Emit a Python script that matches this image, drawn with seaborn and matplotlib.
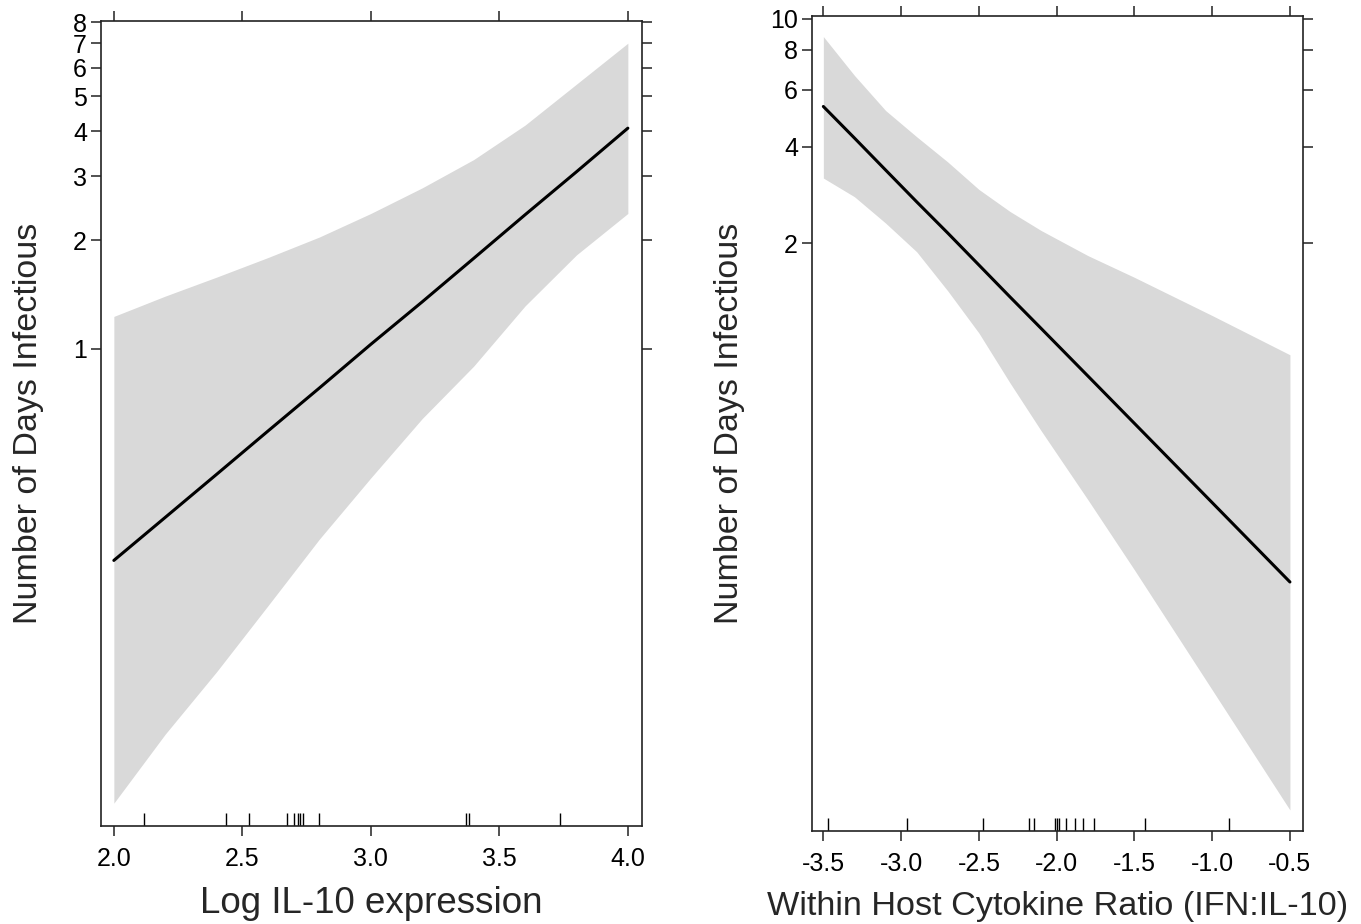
import numpy as np
import pandas as pd
import matplotlib
matplotlib.use('Agg')
import matplotlib.pyplot as plt
from matplotlib.ticker import FixedLocator, FixedFormatter, NullLocator
import seaborn as sns

# --- datos (escala log en y) ---
# Panel izquierdo: Log IL-10 expression
il10_x = [2.0, 2.2, 2.4, 2.6, 2.8, 3.0, 3.2, 3.4, 3.6, 3.8, 4.0]
il10_fit = [0.26, 0.342, 0.45, 0.593, 0.78, 1.03, 1.35, 1.78, 2.35, 3.09, 4.08]
il10_upper = [1.23, 1.40, 1.58, 1.79, 2.04, 2.37, 2.79, 3.34, 4.16, 5.40, 7.01]
il10_lower = [0.0554, 0.086, 0.128, 0.195, 0.298, 0.44, 0.642, 0.896, 1.315, 1.82, 2.37]
il10_rug = [2.117, 2.437, 2.524, 2.675, 2.70, 2.715, 2.725, 2.735, 2.80,
            3.371, 3.382, 3.736]

# Panel derecho: Within Host Cytokine Ratio (IFN:IL-10)
ratio_x = [-3.5, -3.3, -3.1, -2.9, -2.7, -2.5, -2.3, -2.1, -1.8, -1.5, -1.0, -0.5]
ratio_fit = [5.33, 4.25, 3.38, 2.69, 2.15, 1.71, 1.36, 1.085, 0.772, 0.549, 0.311, 0.176]
ratio_upper = [8.80, 6.66, 5.18, 4.29, 3.58, 2.94, 2.51, 2.19, 1.83, 1.565, 1.19, 0.898]
ratio_lower = [3.19, 2.79, 2.31, 1.88, 1.42, 1.05, 0.734, 0.521, 0.318, 0.192, 0.0812, 0.0343]
ratio_rug = [-3.471, -2.960, -2.474, -2.180, -2.148, -2.008, -1.996, -1.983,
             -1.942, -1.885, -1.831, -1.758, -1.434, -0.891]

# Ticks
il10_xticks = [2.0, 2.5, 3.0, 3.5, 4.0]
il10_yticks = [1, 2, 3, 4, 5, 6, 7, 8]
ratio_xticks = [-3.5, -3.0, -2.5, -2.0, -1.5, -1.0, -0.5]
ratio_yticks = [2, 4, 6, 8, 10]

Y_LABEL = 'Number of Days Infectious'

sns.set_style('ticks')
plt.rcParams['font.family'] = ['Liberation Sans', 'DejaVu Sans']

W, H = 1361, 924
fig = plt.figure(figsize=(W / 100, H / 100), dpi=100)


def px_axes(left, right, top, bottom):
    return fig.add_axes([left / W, (H - bottom) / H, (right - left) / W, (bottom - top) / H])


def panel(ax, x, fit, lo, hi, rug, xticks, yticks, xlim, ylim, xlabel, xlab_size, ylab_x):
    df = pd.DataFrame({'x': x, 'fit': fit, 'lo': lo, 'hi': hi})
    ax.fill_between(df['x'], df['lo'], df['hi'], color='#d9d9d9', lw=0)
    sns.lineplot(data=df, x='x', y='fit', ax=ax, color='black', lw=2.2)
    sns.rugplot(x=rug, ax=ax, height=0.016, color='black', lw=1.1)
    ax.set_yscale('log')
    ax.set_xlim(*xlim)
    ax.set_ylim(*ylim)
    ax.xaxis.set_major_locator(FixedLocator(xticks))
    ax.xaxis.set_major_formatter(FixedFormatter([f'{t:.1f}' for t in xticks]))
    ax.yaxis.set_major_locator(FixedLocator(yticks))
    ax.yaxis.set_major_formatter(FixedFormatter([str(t) for t in yticks]))
    ax.yaxis.set_minor_locator(NullLocator())
    ax.tick_params(which='both', direction='out', length=7, width=1.1, color='#222222',
                   top=True, right=True, labeltop=False, labelright=False,
                   labelsize=18, labelcolor='black')
    ax.tick_params(axis='x', pad=8)
    ax.tick_params(axis='y', pad=3)
    for s in ax.spines.values():
        s.set_visible(True)
        s.set_linewidth(1.2)
        s.set_color('#222222')
    ax.set_xlabel(xlabel, fontsize=xlab_size, labelpad=11)
    ax.set_ylabel(Y_LABEL, fontsize=24.5)
    ax.yaxis.set_label_coords(ylab_x, 0.5)


ax1 = px_axes(101, 642, 20.5, 826)
panel(ax1, il10_x, il10_fit, il10_lower, il10_upper, il10_rug,
      il10_xticks, il10_yticks, (1.95, 4.055), (0.0479, 8.1),
      'Log IL-10 expression', 26.5, -0.105)

ax2 = px_axes(812, 1303, 16, 831)
panel(ax2, ratio_x, ratio_fit, ratio_lower, ratio_upper, ratio_rug,
      ratio_xticks, ratio_yticks, (-3.573, -0.416), (0.0295, 10.2),
      'Within Host Cytokine Ratio (IFN:IL-10)', 24.7, -0.136)

fig.savefig('out.png', dpi=100)
